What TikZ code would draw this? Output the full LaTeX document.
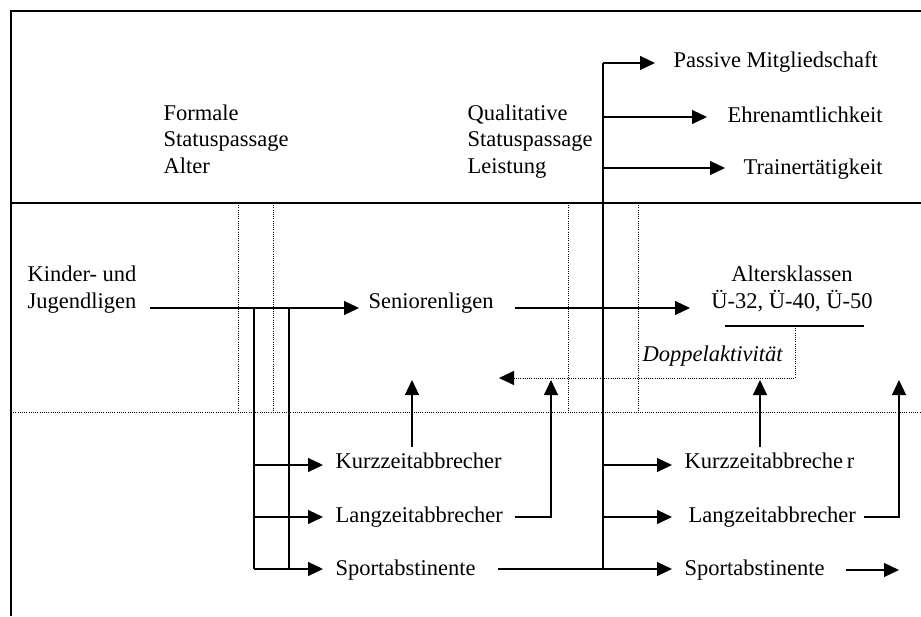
\documentclass[tikz,border=0pt]{standalone}
\usepackage{fontspec}
\setmainfont{Liberation Serif}
\usetikzlibrary{arrows.meta}
\begin{document}
\begin{tikzpicture}[
     x=1pt, y=-1pt, line width=1.1pt,
     lbl/.style={anchor=base west, inner sep=0pt, font=\fontsize{22.5}{26.5}\selectfont},
     arr/.style={-{Triangle[length=15pt,width=14pt]}},
     dots/.style={line width=0.8pt, dash pattern=on 1pt off 1.2pt}
   ]
   \path[use as bounding box] (0,0) rectangle (921,616);
   % Frame and bands.
   \draw[line width=1.4pt] (921,11) -- (11,11) -- (11,616);
   \draw (11,203) -- (921,203);
   \draw[dots] (11,412) -- (921,412);
   \foreach \x in {238,273,568,638}
     \draw[dots] (\x,203) -- (\x,412);
   % Texts.
   \node[lbl, align=left] (formal) at (163,173) {Formale\\Statuspassage\\Alter};
   \node[lbl, align=left] (qual) at (467,173) {Qualitative\\Statuspassage\\Leistung};
   \node[lbl, align=left] (kinder) at (27,308) {Kinder- und\\Jugendligen};
   \node[lbl] (senior) at (368,308) {Seniorenligen};
   \node[lbl, align=center, anchor=base] (alters) at (792,308) {Altersklassen\\Ü-32, Ü-40, Ü-50};
   \node[lbl] (passiv) at (673,67) {Passive Mitgliedschaft};
   \node[lbl] (ehren) at (727,122) {Ehrenamtlichkeit};
   \node[lbl] (trainer) at (743,174) {Trainertätigkeit};
   \node[lbl] (doppel) at (642,361) {\itshape Doppelaktivität};
   \node[lbl] (kurzL) at (335,468) {Kurzzeitabbrecher};
   \node[lbl] (langL) at (335,522) {Langzeitabbrecher};
   \node[lbl] (sportL) at (335,575) {Sportabstinente};
   \node[lbl] (kurzR) at (684,468) {Kurzzeitabbreche\,r};
   \node[lbl] (langR) at (688,522) {Langzeitabbrecher};
   \node[lbl] (sportR) at (684,575) {Sportabstinente};
   % Points of the connectors.
   \coordinate (kOut) at (150,308);
   \coordinate (sIn) at (359,308);
   \coordinate (sOut) at (515,308);
   \coordinate (aIn) at (690,308);
   \coordinate (v1) at (254,308);
   \coordinate (v2) at (289,308);
   \coordinate (kTip) at (323,465);
   \coordinate (lTip) at (323,517);
   \coordinate (sTip) at (323,569);
   \coordinate (vTop) at (603,63);
   \coordinate (kTip2) at (672,465);
   \coordinate (lTip2) at (672,517);
   \coordinate (sTip2) at (672,569);
   \coordinate (back) at (499,378);
   % Age passage.
   \draw[arr] (kOut) -- (sIn);
   \draw (v1) -- (v1 |- sTip);
   \draw (v2) -- (v2 |- sTip);
   \draw[arr] (v1 |- kTip) -- (kTip);
   \draw[arr] (v1 |- lTip) -- (lTip);
   \draw[arr] (v1 |- sTip) -- (sTip);
   \draw[arr] (412,447) -- (412,380);
   \draw[arr] (515,517) -- (551,517) -- (551,380);
   % Performance passage.
   \draw[arr] (sOut) -- (aIn);
   \draw (vTop) -- (vTop |- sTip2);
   \draw[arr] (vTop) -- (655,63);
   \draw[arr] (vTop |- 0,117) -- (707,117);
   \draw[arr] (vTop |- 0,168) -- (725,168);
   \draw[arr] (498,569) -- (sTip2);
   \draw[arr] (vTop |- kTip2) -- (kTip2);
   \draw[arr] (vTop |- lTip2) -- (lTip2);
   \draw[arr] (760,447) -- (760,380);
   \draw[arr] (864,517) -- (899,517) -- (899,380);
   \draw[arr] (846,570) -- (899,570);
   % Double activity.
   \draw (725,326) -- (864,326);
   \draw[dots, arr] (795,326) -- (795,378) -- (back);
\end{tikzpicture}
\end{document}
